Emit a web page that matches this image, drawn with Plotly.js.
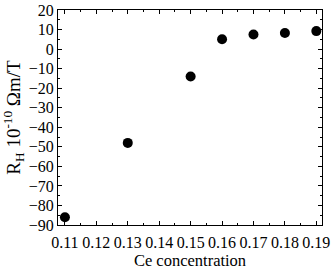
<!DOCTYPE html>
<html><head><meta charset="utf-8">
<script src="https://cdn.plot.ly/plotly-3.0.1.min.js"></script>
<style>body{margin:0;background:#fff}#c{width:334px;height:273px}</style>
</head><body><div id="c"></div>
<script>
const ceConc = [0.11, 0.13, 0.15, 0.16, 0.17, 0.18, 0.19];
const hallCoef = [-86, -48, -14, 5, 7.5, 8.2, 9.2];
const xTicks = [0.11,0.12,0.13,0.14,0.15,0.16,0.17,0.18,0.19];
const yTicks = [-90,-80,-70,-60,-50,-40,-30,-20,-10,0,10,20];

const fam = '"Liberation Serif", "Times New Roman", serif';
const fnt = {family:fam, size:16, color:'#000'};
Plotly.newPlot('c', [{
  x: ceConc, y: hallCoef, mode:'markers', type:'scatter',
  marker:{size:10, color:'#000'}
}], {
  width:334, height:273,
  margin:{l:58, r:12, t:10, b:48},
  paper_bgcolor:'#fff', plot_bgcolor:'#fff',
  showlegend:false,
  font: fnt,
  xaxis:{range:[0.1078,0.1918], tickvals:xTicks, ticktext:xTicks.map(v=>v.toFixed(2)),
    ticks:'inside', ticklen:4, tickcolor:'#000', showline:true, linecolor:'#000', linewidth:1,
    mirror:'ticks', showgrid:false, zeroline:false, tickfont:fnt, ticklabelstandoff:3,
    minor:{dtick:0.005, tick0:0.105, ticks:'inside', ticklen:2, tickcolor:'#000'},
    title:{text:'Ce concentration', font:{family:fam, size:16.5, color:'#000'}, standoff:0}},
  yaxis:{range:[-90,20], tickvals:yTicks, ticks:'inside', ticklen:4, tickcolor:'#000',
    showline:true, linecolor:'#000', linewidth:1, mirror:'ticks', showgrid:false, zeroline:false,
    tickfont:fnt,
    minor:{dtick:5, tick0:-85, ticks:'inside', ticklen:2, tickcolor:'#000'},
    title:{text:'R<sub>H</sub> 10<sup>-10</sup> Ωm/T', font:{family:fam, size:19, color:'#000'}, standoff:5}}
}, {staticPlot:true});
</script></body></html>
